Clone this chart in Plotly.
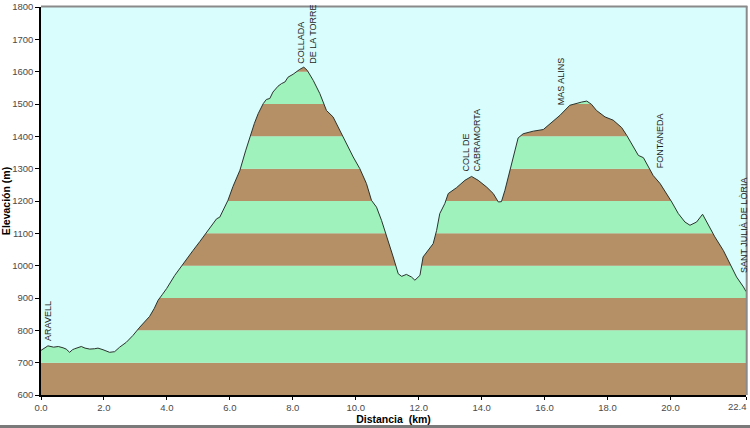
import plotly.graph_objects as go

# ---- data -------------------------------------------------------------
distance_km = [
    0.00, 0.10, 0.22, 0.40, 0.55, 0.70, 0.80, 0.91, 1.00, 1.07, 1.20, 1.28, 1.40,
    1.55, 1.70, 1.81, 1.97, 2.08, 2.18, 2.34, 2.50, 2.71, 2.92, 3.14, 3.30, 3.45,
    3.60, 3.72, 3.85, 3.99, 4.25, 4.51, 4.83, 5.05, 5.26, 5.45, 5.58, 5.68, 5.80,
    5.94, 6.10, 6.32, 6.50, 6.63, 6.78, 6.90, 7.06, 7.16, 7.27, 7.37, 7.53, 7.64,
    7.75, 7.85, 8.01, 8.22, 8.35, 8.46, 8.65, 8.86, 9.07, 9.28, 9.49, 9.71, 9.92,
    10.13, 10.34, 10.50, 10.66, 10.82, 11.03, 11.19, 11.35, 11.46, 11.61, 11.77,
    11.88, 12.04, 12.14, 12.30, 12.46, 12.57, 12.67, 12.83, 12.94, 13.20, 13.47,
    13.68, 13.89, 14.16, 14.37, 14.53, 14.63, 14.74, 14.90, 15.06, 15.16, 15.32,
    15.64, 15.96, 16.22, 16.49, 16.80, 17.02, 17.18, 17.34, 17.49, 17.65, 17.92,
    18.18, 18.45, 18.61, 18.82, 18.98, 19.14, 19.30, 19.45, 19.67, 19.88, 20.04,
    20.25, 20.46, 20.62, 20.83, 21.02, 21.20, 21.41, 21.68, 21.89, 22.10, 22.32,
    22.40,
]
elevation_m = [
    738, 745, 752, 748, 750, 746, 742, 732, 740, 743, 746, 750, 745,
    742, 743, 745, 740, 735, 732, 734, 748, 763, 784, 810, 828, 843,
    868, 893, 910, 929, 970, 1006, 1047, 1075, 1104, 1128, 1145, 1150, 1175,
    1202, 1245, 1295, 1355, 1398, 1440, 1470, 1501, 1514, 1517, 1537, 1555, 1563,
    1568, 1583, 1592, 1607, 1614, 1604, 1573, 1532, 1480, 1460, 1419, 1377, 1336,
    1300, 1254, 1202, 1181, 1140, 1078, 1027, 975, 967, 973, 965,
    955, 970, 1027, 1047, 1068, 1109, 1161, 1192, 1223, 1241, 1264,
    1276, 1264, 1243, 1223, 1197, 1198, 1233, 1295, 1357, 1395, 1408,
    1416, 1421, 1444, 1465, 1496, 1503, 1506, 1509, 1499, 1480, 1460,
    1450, 1427, 1403, 1367, 1341, 1334, 1305, 1279, 1254, 1223, 1197,
    1161, 1135, 1125, 1135, 1159, 1125, 1089, 1047, 1006, 965, 934,
    920,
]

place_names = ["ARAVELL", "COLLADA<br>DE LA TORRE", "COLL DE<br>CABRAMORTA",
               "MAS ALINS", "FONTANEDA", "SANT JULIÀ DE LÒRIA"]
place_km = [0.20, 8.45, 13.68, 16.53, 19.65, 22.34]
place_elev = [762, 1620, 1285, 1491, 1295, 970]

x_tick_vals = [0, 2, 4, 6, 8, 10, 12, 14, 16, 18, 20, 22.4]
x_tick_text = ["0.0", "2.0", "4.0", "6.0", "8.0", "10.0", "12.0", "14.0",
               "16.0", "18.0", "20.0", "22.4"]
y_tick_vals = [600, 700, 800, 900, 1000, 1100, 1200, 1300, 1400, 1500, 1600, 1700, 1800]

# ---- styling ----------------------------------------------------------
BROWN = "#b58f66"
GREEN = "#9ff2bc"
SKY = "#d9fcfc"
LINE = "#2a332d"
FONT = "Arial, Liberation Sans, sans-serif"
TICK_COLOR = "#4a4a4a"
TICK_SIZE = 9.5

fig = go.Figure()

# elevation (invisible base for the sky fill)
fig.add_trace(go.Scatter(x=distance_km, y=elevation_m, mode="lines",
                         line=dict(width=0, color=SKY), hoverinfo="skip",
                         showlegend=False))
# sky: fill from the profile up to the top of the axis
fig.add_trace(go.Scatter(x=distance_km, y=[y_tick_vals[-1]] * len(distance_km),
                         mode="lines", line=dict(width=0, color=SKY),
                         fill="tonexty", fillcolor=SKY, hoverinfo="skip",
                         showlegend=False))
# profile line
fig.add_trace(go.Scatter(x=distance_km, y=elevation_m, mode="lines",
                         line=dict(width=1, color=LINE), showlegend=False))

shapes = []
# alternating elevation bands between y ticks
for i in range(len(y_tick_vals) - 1):
    shapes.append(dict(type="rect", xref="paper", yref="y", x0=0, x1=1,
                       y0=y_tick_vals[i], y1=y_tick_vals[i + 1],
                       fillcolor=BROWN if i % 2 == 0 else GREEN,
                       line=dict(width=0), layer="below"))
# grey top / right frame
shapes.append(dict(type="line", xref="paper", yref="paper", x0=0, x1=1.002,
                   y0=1.001, y1=1.001, line=dict(color="#8a8a8a", width=2)))
shapes.append(dict(type="line", xref="paper", yref="paper", x0=1.001, x1=1.001,
                   y0=0, y1=1.002, line=dict(color="#8a8a8a", width=2)))
# grey bottom frame of the image
shapes.append(dict(type="line", xref="paper", yref="paper", x0=-0.06, x1=1.01,
                   y0=-0.0815, y1=-0.0815, line=dict(color="#7a7a7a", width=3)))

annotations = []
for name, xk, ye in zip(place_names, place_km, place_elev):
    annotations.append(dict(x=xk, y=ye, xref="x", yref="y", text=name,
                            textangle=-90, showarrow=False, align="left",
                            xanchor="center", yanchor="bottom",
                            font=dict(family=FONT, size=9, color="#1e1e1e")))
# last tick label, kept inside the picture (right-aligned at the axis end)
annotations.append(dict(x=x_tick_vals[-1], y=0, xref="x", yref="paper",
                        text=x_tick_text[-1], showarrow=False,
                        xanchor="right", yanchor="top", xshift=3, yshift=-4,
                        font=dict(family=FONT, size=TICK_SIZE, color=TICK_COLOR)))
axis_tick_text = x_tick_text[:-1] + [""]

fig.update_layout(
    width=750, height=428, autosize=False,
    margin=dict(l=41, r=4, t=7, b=33),
    paper_bgcolor="white", plot_bgcolor=SKY,
    shapes=shapes, annotations=annotations,
    font=dict(family=FONT, color=TICK_COLOR),
    xaxis=dict(range=[0, 22.4], tickvals=x_tick_vals, ticktext=axis_tick_text,
               showgrid=False, zeroline=False, showline=True, automargin=False,
               linecolor="black", linewidth=1.5, ticks="outside", ticklen=3,
               tickcolor="black", tickfont=dict(size=TICK_SIZE, color=TICK_COLOR),
               title=dict(text="<b>Distancia  (km)</b>", standoff=0,
                          font=dict(size=10.5, color="black", family=FONT))),
    yaxis=dict(range=[600, 1800], tickvals=y_tick_vals, automargin=False,
               showgrid=False, zeroline=False, showline=True,
               linecolor="black", linewidth=1.5, ticks="outside", ticklen=4,
               tickcolor="black", tickfont=dict(size=TICK_SIZE, color=TICK_COLOR),
               title=dict(text="<b>Elevación (m)</b>", standoff=0,
                          font=dict(size=10.5, color="black", family=FONT))),
)

fig.write_html("out.html",
               config={"displayModeBar": False},
               post_script="document.body.style.margin='0';"
                           "document.body.style.overflow='hidden';")
